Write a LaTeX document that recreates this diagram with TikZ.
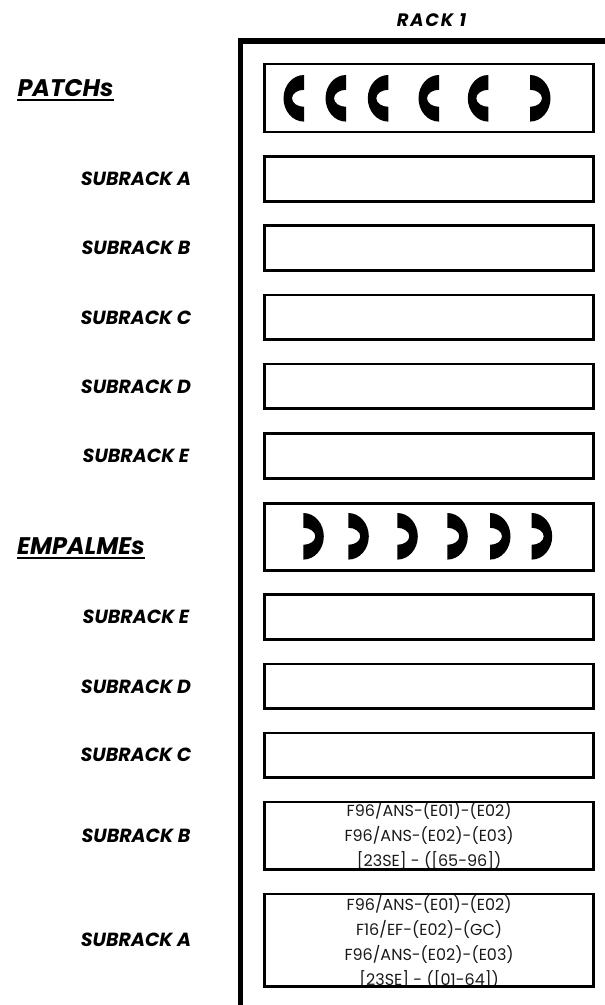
\documentclass[tikz,border=0pt]{standalone}
\usepackage{fontspec}
\setmainfont{Poppins}
\begin{document}
\begin{tikzpicture}[x=1pt,y=-1pt,
  frame/.style={line width=5.5pt,line join=miter},
  box/.style={draw,line width=2.7pt,minimum width=328.9pt,inner sep=0pt,outer sep=0pt},
  lab/.style={font=\fontsize{19}{19}\selectfont\bfseries\itshape,inner sep=0pt},
  head/.style={font=\fontsize{24}{24}\selectfont\bfseries\itshape,inner sep=0pt,anchor=base west},
  btxt/.style={font=\fontsize{16}{25}\selectfont,align=center,inner sep=0pt,text=black!90},
  lmoon/.pic={\fill (0,-23.3) arc[start angle=90,end angle=270,x radius=20.5pt,y radius=23.3pt] -- (0,8.5) arc[start angle=270,end angle=90,x radius=12pt,y radius=8.5pt] -- cycle;},
  rmoon/.pic={\fill (0,-23.3) arc[start angle=90,end angle=-90,x radius=20.5pt,y radius=23.3pt] -- (0,8.5) arc[start angle=-90,end angle=90,x radius=12pt,y radius=8.5pt] -- cycle;}
]
\useasboundingbox (0,0) rectangle (605,1005);
% rack frame
\coordinate (fb) at (240.3,1006);
\coordinate (fc) at (240.3,40.8);
\coordinate (fr) at (606,40.8);
\draw[frame] (fb) -- (fc) -- (fr);
\node[font=\fontsize{18}{18}\selectfont\bfseries\itshape\addfontfeatures{LetterSpace=10},inner sep=0pt] (rack) at (431.5,20.5) {RACK 1};

% headings
\node[head] (patchs) at (17.3,96.7) {PATCHs};
\draw[line width=2pt] ([yshift=-3.6pt]patchs.base west) -- ([yshift=-3.6pt]patchs.base east);
\node[head] (empalmes) at (17,554) {EMPALMEs};
\draw[line width=2pt] ([yshift=-3.8pt]empalmes.base west) -- ([yshift=-3.8pt]empalmes.base east);

% boxes
\node[box,minimum height=68pt] (patch) at (429.15,98) {};
\node[box,minimum height=44.6pt] (sa) at (429.15,179) {};
\node[box,minimum height=45pt] (sb) at (429.15,248.2) {};
\node[box,minimum height=44.7pt] (sc) at (429.15,317.35) {};
\node[box,minimum height=44.7pt] (sd) at (429.15,386.35) {};
\node[box,minimum height=45.4pt] (se) at (429.15,456) {};
\node[box,minimum height=67pt] (emp) at (429.15,536.8) {};
\node[box,minimum height=45pt] (se2) at (429.15,617.2) {};
\node[box,minimum height=44.7pt] (sd2) at (429.15,686.35) {};
\node[box,minimum height=44.3pt] (sc2) at (429.15,755.15) {};
\node[box,minimum height=67.3pt] (sb2) at (429.15,835.65) {};
\node[box,minimum height=92.3pt] (sa2) at (429.15,940.15) {};

% labels
\node[lab] (la) at (136,179) {SUBRACK A};
\node[lab] (lb) at (136,248.2) {SUBRACK B};
\node[lab] (lc) at (136,317.3) {SUBRACK C};
\node[lab] (ld) at (136,386.3) {SUBRACK D};
\node[lab] (le) at (136,456) {SUBRACK E};
\node[lab] (le2) at (136,617.2) {SUBRACK E};
\node[lab] (ld2) at (136,686.3) {SUBRACK D};
\node[lab] (lc2) at (136,755.2) {SUBRACK C};
\node[lab] (lb2) at (136,835.7) {SUBRACK B};
\node[lab] (la2) at (136,940.2) {SUBRACK A};

% patch connectors
\foreach \x in {304,346,388.3,439,488.3} \pic at (\x,98.3) {lmoon};
\pic at (530,98.3) {rmoon};
% splice connectors
\foreach \x in {303.3,348.3,397.3,447.3,490,531.7} \pic at (\x,536.3) {rmoon};

% texts inside boxes (clipped)
\begin{scope}
\clip ([xshift=1.35pt,yshift=1.35pt]sb2.south west) rectangle ([xshift=-1.35pt,yshift=-1.35pt]sb2.north east);
\node[btxt] (tb2) at (429.15,835) {F96/ANS-(E01)-(E02)\\F96/ANS-(E02)-(E03)\\{[23SE] - ([65-96])}};
\end{scope}
\begin{scope}
\clip ([xshift=1.35pt,yshift=1.35pt]sa2.south west) rectangle ([xshift=-1.35pt,yshift=-1.35pt]sa2.north east);
\node[btxt] (ta2) at (429.15,942) {F96/ANS-(E01)-(E02)\\F16/EF-(E02)-(GC)\\F96/ANS-(E02)-(E03)\\{[23SE] - ([01-64])}};
\end{scope}
\end{tikzpicture}
\end{document}
